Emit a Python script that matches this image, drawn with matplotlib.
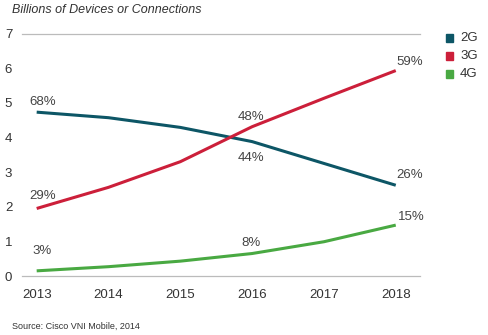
"""Mobile device and connection growth by network generation, 2013-2018."""

import matplotlib.pyplot as plt

plt.rcParams["font.family"] = ["Liberation Sans", "DejaVu Sans"]

YEARS = [2013, 2014, 2015, 2016, 2017, 2018]
SERIES = ["2G", "3G", "4G"]
VALUES_2G = [4.73, 4.57, 4.29, 3.88, 3.25, 2.62]
VALUES_3G = [1.95, 2.56, 3.30, 4.31, 5.13, 5.93]
VALUES_4G = [0.15, 0.27, 0.43, 0.65, 0.99, 1.47]
COLORS = ["#0d5666", "#cc1f3a", "#49a942"]

# share labels: (series index, year, text)
SHARE_LABELS = [
    (0, 2013, "68%"), (1, 2013, "29%"), (2, 2013, "3%"),
    (1, 2016, "48%"), (0, 2016, "44%"), (2, 2016, "8%"),
    (1, 2018, "59%"), (0, 2018, "26%"), (2, 2018, "15%"),
]

TEXT = "#333333"


def main():
    values = [VALUES_2G, VALUES_3G, VALUES_4G]

    fig = plt.figure(figsize=(4.88, 3.35), dpi=100)
    ax = fig.add_axes([0.045, 0.176, 0.816, 0.724])

    for vals, color, name in zip(values, COLORS, SERIES):
        ax.plot(YEARS, vals, color=color, linewidth=2.2, solid_capstyle="butt", label=name)

    ax.set_xlim(2013 - 0.205, 2018.34)
    ax.set_ylim(0, 7)
    for y in (0, 7):
        ax.axhline(y, color="#bbbbbb", linewidth=0.9, clip_on=False, zorder=0)

    for side in ax.spines.values():
        side.set_visible(False)
    ax.set_xticks(YEARS)
    ax.set_yticks(range(0, 8))
    ax.tick_params(length=0, labelsize=9.5, colors=TEXT)
    ax.tick_params(axis="x", pad=9)
    ax.tick_params(axis="y", pad=7)

    # label offsets in points, per (year, position)
    offsets = {
        (2013, 0): (4, 7.6, "center"), (2013, 1): (4, 9, "center"), (2013, 2): (4, 14.5, "center"),
        (2016, 1): (-0.7, 6.8, "center"), (2016, 0): (-0.7, -12, "center"), (2016, 2): (-0.7, 7.8, "center"),
        (2018, 1): (0.3, 6.5, "left"), (2018, 0): (0.3, 7.4, "left"), (2018, 2): (1.4, 6, "left"),
    }
    for idx, year, text in SHARE_LABELS:
        dx, dy, ha = offsets[(year, idx)]
        y = values[idx][YEARS.index(year)]
        ax.annotate(text, (year, y), xytext=(dx, dy), textcoords="offset points",
                    ha=ha, va="center", fontsize=9.5, color="#444444")

    fig.text(0.025, 0.97, "Billions of Devices or Connections", fontsize=9,
             style="italic", color=TEXT, va="center", ha="left")
    fig.text(0.025, 0.027, "Source: Cisco VNI Mobile, 2014", fontsize=6.5,
             color=TEXT, va="center", ha="left")

    # legend with square swatches
    for i, (name, color) in enumerate(zip(SERIES, COLORS)):
        ypos = 1 - (37.7 + 18 * i) / 335
        fig.patches.append(plt.Rectangle((445.5 / 488, ypos - 4 / 335), 7.5 / 488, 8 / 335,
                                         transform=fig.transFigure, color=color, figure=fig))
        fig.text(460 / 488, ypos, name, fontsize=9.5, color=TEXT, va="center", ha="left")

    fig.savefig("out.png", dpi=100)


if __name__ == "__main__":
    main()
